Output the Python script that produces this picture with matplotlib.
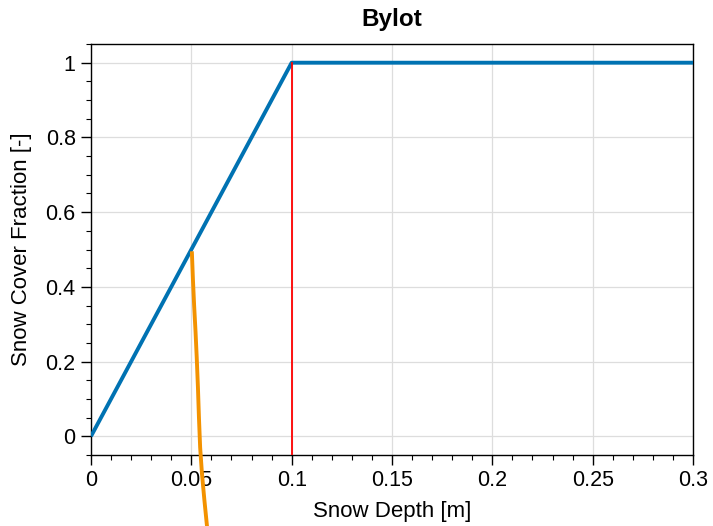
import matplotlib
matplotlib.use("Agg")
import matplotlib.pyplot as plt
from matplotlib.ticker import MultipleLocator, FuncFormatter

# Data
depth_lin = [0.0, 0.1, 0.3]
frac_lin = [0.0, 1.0, 1.0]

threshold_x = [0.1, 0.1]
threshold_y = [-0.05, 1.0]

orange_x = [0.0503, 0.0508, 0.0514, 0.0521, 0.0527, 0.0533, 0.0538, 0.0544, 0.0553, 0.0565, 0.0578]
orange_y = [0.49, 0.42, 0.35, 0.28, 0.21, 0.13, 0.05, -0.03, -0.10, -0.17, -0.24]

x_ticks = [0, 0.05, 0.1, 0.15, 0.2, 0.25, 0.3]
y_ticks = [0, 0.2, 0.4, 0.6, 0.8, 1.0]

plt.rcParams['font.family'] = ['Liberation Sans', 'DejaVu Sans']

fig = plt.figure(figsize=(7.13, 5.26), dpi=100)
ax = fig.add_axes([0.1276, 0.135, 0.8444, 0.7813])

ax.plot(depth_lin, frac_lin, color='#0072B2', lw=2.8, zorder=3, solid_capstyle='butt')
ax.plot(threshold_x, threshold_y, color='red', lw=1.3, zorder=4)
ax.plot(orange_x, orange_y, color='#F39200', lw=2.8, zorder=5, clip_on=False)

ax.set_xlim(0, 0.3)
ax.set_ylim(-0.05, 1.05)
ax.set_xticks(x_ticks)
ax.set_yticks(y_ticks)
ax.xaxis.set_minor_locator(MultipleLocator(0.01))
ax.yaxis.set_minor_locator(MultipleLocator(0.05))

fmt = FuncFormatter(lambda v, p: ('%g' % round(v, 4)))
ax.xaxis.set_major_formatter(fmt)
ax.yaxis.set_major_formatter(fmt)

ax.tick_params(which='major', direction='out', length=7, width=1, labelsize=15.5, pad=4)
ax.tick_params(which='minor', direction='out', length=3.6, width=0.8)
ax.grid(True, which='major', color='#dddddd', lw=0.9, zorder=0)
ax.set_axisbelow(True)
for s in ax.spines.values():
    s.set_linewidth(1.0)

ax.set_xlabel('Snow Depth [m]', fontsize=16, labelpad=7)
ax.set_ylabel('Snow Cover Fraction [-]', fontsize=16, labelpad=10)
ax.set_title('Bylot', fontsize=17.5, fontweight='bold', pad=13)

fig.savefig('out.png', dpi=100)
